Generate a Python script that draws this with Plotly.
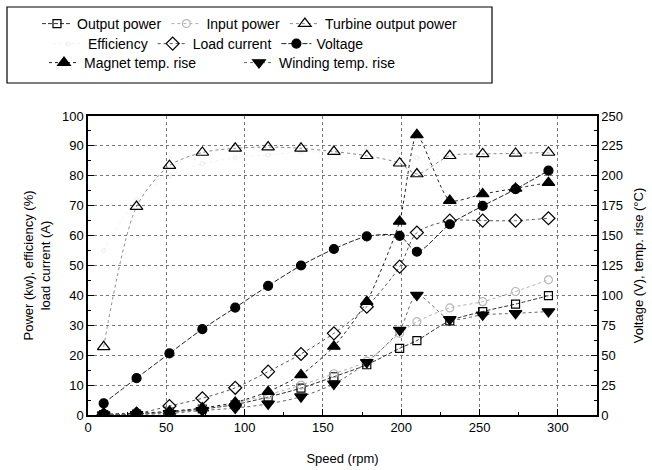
import plotly.graph_objects as go

speed = [10, 31, 52, 73, 94, 115, 136, 157, 178, 199, 210, 231, 252, 273, 294]

# left axis: power (kW), efficiency (%), load current (A)
output_power = [0.1, 0.3, 1.0, 2.0, 3.5, 6.0, 9.0, 12.8, 16.8, 22.3, 24.9, 31.5, 34.6, 37.1, 39.9]
input_power = [0.1, 0.4, 1.2, 2.3, 4.0, 6.8, 10.0, 13.8, 18.0, 27.3, 31.2, 35.8, 37.9, 41.3, 45.2]
turbine_power = [22.8, 69.7, 83.4, 87.8, 89.2, 89.6, 89.2, 88.1, 86.7, 84.2, 80.6, 86.7, 87.3, 87.5, 87.8]
efficiency = [55, 72, 80, 84, 86, 87, 88, 88, 89, 88, 86, 88, 89, 88, 88]
load_current = [0.2, 0.5, 3.0, 5.6, 9.1, 14.5, 20.4, 27.3, 36.2, 49.6, 61.0, 65.0, 65.0, 65.0, 65.8]

# right axis: voltage (V), temperature rise (°C)
voltage = [9.8, 30.8, 51.5, 71.8, 89.8, 108.0, 125.0, 138.8, 149.3, 149.8, 136.5, 159.5, 174.8, 188.8, 204.3]
magnet_rise = [0.8, 1.5, 3.0, 5.8, 10.5, 19.5, 33.5, 57.3, 94.8, 161.8, 234.3, 179.3, 184.8, 189.5, 194.3]
winding_rise = [0.3, 0.5, 1.3, 3.8, 5.8, 9.3, 15.3, 26.0, 44.0, 71.0, 100.3, 80.0, 83.8, 85.0, 86.5]

FONT = "Liberation Sans, Arial, sans-serif"

fig = go.Figure()

def add(name, y, symbol, size, lcolor, dash, legend, axis="y", mcolor="black", lwidth=1, mline=1.2, smoothing=0.8):
    fig.add_trace(go.Scatter(
        x=speed, y=y, name=name, mode="lines+markers", yaxis=axis, legend=legend,
        line=dict(color=lcolor, dash=dash, width=lwidth, shape="spline", smoothing=smoothing),
        marker=dict(symbol=symbol, size=size, color=mcolor, line=dict(color=mcolor, width=mline)),
    ))

add("Output power", output_power, "square-open", 8, "#333333", "4px,2px", "legend")
add("Input power", input_power, "circle-open", 8, "#b0b0b0", "dot", "legend", mcolor="#b8b8b8")
add("Turbine output power", turbine_power, "triangle-up-open", 11, "#8a8a8a", "dot", "legend")
add("Efficiency", efficiency, "circle-open", 4, "rgba(0,0,0,0.05)", "dot", "legend2", mcolor="rgba(0,0,0,0.06)")
add("Load current", load_current, "diamond-open", 10, "#555555", "dot", "legend2")
add("Voltage", voltage, "circle", 9, "#222222", "5px,2px", "legend2", axis="y2")
add("Magnet temp. rise", magnet_rise, "triangle-up", 11, "#222222", "dot", "legend3", axis="y2", smoothing=0.6)
add("Winding temp. rise", winding_rise, "triangle-down", 11, "#666666", "dot", "legend3", axis="y2")

L = 88
T = 116
PW = 509
PH = 299

def px_x(px):
    return (px - L) / PW

def px_y(py):
    return (T + PH - py) / PH

leg_common = dict(orientation="h", bgcolor="rgba(0,0,0,0)", borderwidth=0,
                  font=dict(family=FONT, size=14, color="black"),
                  xanchor="left", yanchor="middle", xref="paper", yref="paper",
                  itemwidth=30, tracegroupgap=0)

fig.update_layout(
    width=652, height=470,
    margin=dict(l=L, r=652 - L - PW, t=T, b=470 - T - PH, autoexpand=False),
    paper_bgcolor="white", plot_bgcolor="white",
    font=dict(family=FONT, size=13, color="black"),
    showlegend=True,
    legend=dict(x=px_x(37), y=px_y(24), **leg_common),
    legend2=dict(x=px_x(48), y=px_y(44), **leg_common),
    legend3=dict(x=px_x(44), y=px_y(63), entrywidth=150, entrywidthmode="pixels", **leg_common),
    xaxis=dict(
        range=[0, 325], dtick=50, tick0=0, automargin=False,
        showline=True, linecolor="black", linewidth=1.5, mirror=True,
        ticks="inside", ticklen=6, tickwidth=1.2, tickcolor="black",
        minor=dict(dtick=25, ticks="inside", ticklen=3, tickcolor="black", showgrid=False),
        showgrid=True, gridcolor="#777777", griddash="dot", gridwidth=1,
        zeroline=False,
        tickfont=dict(family=FONT, size=13),
        title=dict(text="Speed (rpm)", font=dict(family=FONT, size=13), standoff=20),
    ),
    yaxis=dict(
        range=[0, 100], dtick=10, tick0=0, automargin=False,
        showline=True, linecolor="black", linewidth=1.5,
        ticks="inside", ticklen=6, tickwidth=1.2, tickcolor="black",
        minor=dict(dtick=5, ticks="inside", ticklen=3, tickcolor="black", showgrid=False),
        showgrid=True, gridcolor="#777777", griddash="dot", gridwidth=1,
        zeroline=False,
        tickfont=dict(family=FONT, size=13),
        title=dict(text="Power (kw), efficiency (%)<br>load current (A)", font=dict(family=FONT, size=13), standoff=8),
    ),
    yaxis2=dict(
        range=[0, 250], dtick=25, tick0=0, overlaying="y", side="right", automargin=False,
        showline=True, linecolor="black", linewidth=1.5,
        ticks="inside", ticklen=6, tickwidth=1.2, tickcolor="black",
        minor=dict(dtick=12.5, ticks="inside", ticklen=3, tickcolor="black", showgrid=False),
        showgrid=False, zeroline=False,
        tickfont=dict(family=FONT, size=13),
        title=dict(text="Voltage (V), temp. rise (°C)", font=dict(family=FONT, size=13), standoff=12),
    ),
    shapes=[dict(type="rect", xref="paper", yref="paper",
                 x0=px_x(7), x1=px_x(492), y0=px_y(83), y1=px_y(7),
                 line=dict(color="black", width=1.2), fillcolor="rgba(0,0,0,0)", layer="above")],
)

fig.write_html("out.html")
